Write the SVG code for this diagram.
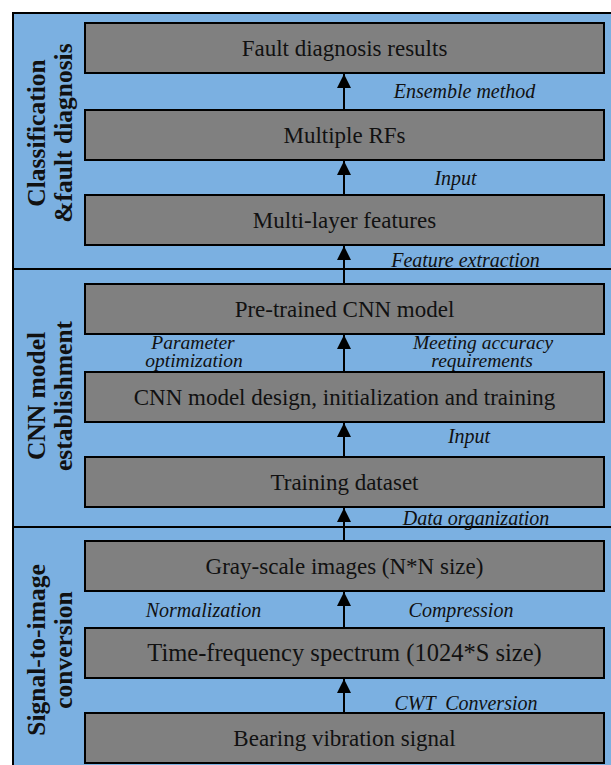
<svg xmlns="http://www.w3.org/2000/svg" width="611" height="765" viewBox="0 0 611 765">
<style>
.panel{fill:#7BB0E1;stroke:#000;stroke-width:2}
.div{stroke:#000;stroke-width:2}
.box{fill:#808080;stroke:#000;stroke-width:2}
.bt{font-family:"Liberation Serif","Times New Roman",serif;font-size:23px;fill:#111;text-anchor:middle}
.lt{font-family:"Liberation Serif","Times New Roman",serif;font-size:20px;font-style:italic;fill:#111;text-anchor:middle}
.lt2{font-family:"Liberation Serif","Times New Roman",serif;font-size:19.5px;font-style:italic;fill:#111;text-anchor:middle}
.st{font-family:"Liberation Serif","Times New Roman",serif;font-size:25.5px;font-weight:bold;fill:#111;text-anchor:middle}
.arr{stroke:#000;stroke-width:2;fill:none;marker-end:url(#ah)}
</style>
<defs>
<marker id="ah" markerUnits="userSpaceOnUse" markerWidth="14" markerHeight="14" refX="12" refY="6" orient="auto" viewBox="0 0 12 12">
<path d="M0,0 L12,6 L0,12 Z" fill="#000"/>
</marker>
</defs>
<rect width="611" height="765" fill="#fff"/>
<g id="panels">
<rect class="panel" x="13" y="13" width="610" height="760"/>
<line class="div" x1="13" y1="269" x2="611" y2="269"/>
<line class="div" x1="13" y1="527" x2="611" y2="527"/>
<text class="st" transform="translate(45,133) rotate(-90)">Classification</text>
<text class="st" transform="translate(72,133) rotate(-90)">&amp;fault diagnosis</text>
<text class="st" transform="translate(45,396) rotate(-90)">CNN model</text>
<text class="st" transform="translate(72,396) rotate(-90)">establishment</text>
<text class="st" transform="translate(45,650) rotate(-90)">Signal-to-image</text>
<text class="st" transform="translate(72,650) rotate(-90)">conversion</text>
</g>
<g id="connectors">
<line class="arr" x1="344" y1="110" x2="344" y2="74"/>
<line class="arr" x1="344" y1="195" x2="344" y2="161"/>
<line class="arr" x1="344" y1="284" x2="344" y2="246"/>
<line class="arr" x1="344" y1="372" x2="344" y2="335"/>
<line class="arr" x1="344" y1="457" x2="344" y2="423"/>
<line class="arr" x1="344" y1="541" x2="344" y2="508"/>
<line class="arr" x1="344" y1="628" x2="344" y2="592"/>
<line class="arr" x1="344" y1="713" x2="344" y2="679"/>
<text class="lt" x="464.5" y="98">Ensemble method</text>
<text class="lt" x="455.5" y="185">Input</text>
<text class="lt" x="465.5" y="267">Feature extraction</text>
<text class="lt2" x="193" y="349">Parameter</text>
<text class="lt2" x="194" y="367">optimization</text>
<text class="lt2" x="483" y="349">Meeting accuracy</text>
<text class="lt2" x="482" y="367">requirements</text>
<text class="lt" x="469" y="443">Input</text>
<text class="lt" x="476" y="525">Data organization</text>
<text class="lt" x="203.5" y="617">Normalization</text>
<text class="lt" x="461" y="617">Compression</text>
<text class="lt" x="466" y="710" xml:space="preserve">CWT  Conversion</text>
</g>
<g id="n1"><rect class="box" x="85" y="23" width="519" height="50"/><text class="bt" x="344.5" y="56">Fault diagnosis results</text></g>
<g id="n2"><rect class="box" x="85" y="110" width="519" height="50"/><text class="bt" x="344.5" y="143">Multiple RFs</text></g>
<g id="n3"><rect class="box" x="85" y="195" width="519" height="50"/><text class="bt" x="344.5" y="228">Multi-layer features</text></g>
<g id="n4"><rect class="box" x="85" y="284" width="519" height="50"/><text class="bt" x="344.5" y="317">Pre-trained CNN model</text></g>
<g id="n5"><rect class="box" x="85" y="372" width="519" height="50"/><text class="bt" x="344.5" y="405">CNN model design, initialization and training</text></g>
<g id="n6"><rect class="box" x="85" y="457" width="519" height="50"/><text class="bt" x="344.5" y="490">Training dataset</text></g>
<g id="n7"><rect class="box" x="85" y="541" width="519" height="50"/><text class="bt" x="344.5" y="574">Gray-scale images (N*N size)</text></g>
<g id="n8"><rect class="box" x="85" y="628" width="519" height="50"/><text class="bt" x="344.5" y="661" style="font-size:24.5px">Time-frequency spectrum (1024*S size)</text></g>
<g id="n9"><rect class="box" x="85" y="713" width="519" height="50"/><text class="bt" x="344.5" y="746">Bearing vibration signal</text></g>
</svg>
